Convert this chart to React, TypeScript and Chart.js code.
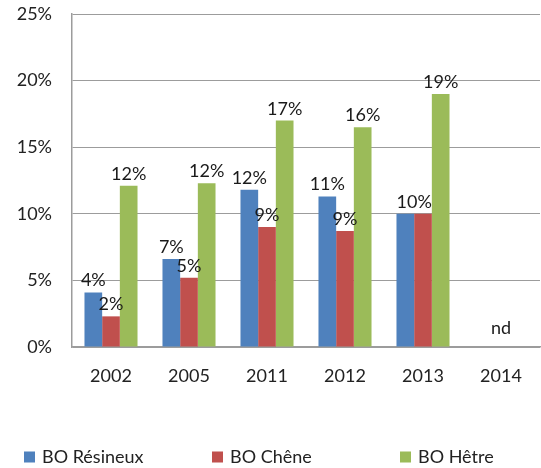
import React, { useEffect, useRef } from "react";
import { Chart, registerables } from "chart.js";

Chart.register(...registerables);

const categories = ["2002", "2005", "2011", "2012", "2013", "2014"];
const seriesNames = ["BO Résineux", "BO Chêne", "BO Hêtre"];
const resineux = [4.1, 6.6, 11.8, 11.3, 10.0, null];
const chene = [2.3, 5.2, 9.0, 8.7, 10.0, null];
const hetre = [12.1, 12.3, 17.0, 16.5, 19.0, null];
const resineuxLabels = ["4%", "7%", "12%", "11%", "10%", ""];
const cheneLabels = ["2%", "5%", "9%", "9%", "10%", ""];
const hetreLabels = ["12%", "12%", "17%", "16%", "19%", ""];
const missingLabels = ["", "", "", "", "", "nd"];
const colors = ["#4F81BD", "#C0504D", "#9BBB59"];

const FONT = "Lato, 'Open Sans', sans-serif";
const TEXT = "#222222";
const GRID = "#9c9c9c";

const labelPlugin = {
  id: "valueLabels",
  afterDatasetsDraw(chart: any) {
    const ctx = chart.ctx;
    const allLabels = [resineuxLabels, cheneLabels, hetreLabels];
    ctx.save();
    ctx.font = `18px ${FONT}`;
    ctx.fillStyle = "#1a1a1a";
    ctx.textAlign = "center";
    ctx.textBaseline = "alphabetic";
    categories.forEach((_, i) => {
      const items: { x: number; y: number; t: string }[] = [];
      allLabels.forEach((labs, d) => {
        const t = labs[i];
        if (!t) return;
        const el = chart.getDatasetMeta(d).data[i];
        if (!el) return;
        items.push({ x: el.x, y: el.y, t });
      });
      const out: { x: number; y: number; t: string }[] = [];
      items.forEach((it) => {
        const prev = out[out.length - 1];
        if (prev && prev.t === it.t && Math.abs(prev.y - it.y) < 1) {
          prev.x = (prev.x + it.x) / 2;
        } else out.push({ ...it });
      });
      out.forEach((it) => ctx.fillText(it.t, it.x, it.y - 6));
      if (missingLabels[i]) {
        const x = chart.scales.x.getPixelForValue(i);
        const y = chart.scales.y.getPixelForValue(0);
        ctx.fillText(missingLabels[i], x, y - 13);
      }
    });
    ctx.restore();
  },
};

const legendPlugin = {
  id: "customLegend",
  afterDraw(chart: any) {
    const ctx = chart.ctx;
    ctx.save();
    ctx.font = `18px ${FONT}`;
    ctx.textBaseline = "middle";
    ctx.textAlign = "left";
    const yc = 457;
    seriesNames.forEach((name, i) => {
      const x = 24 + i * 188;
      ctx.fillStyle = colors[i];
      ctx.fillRect(x, yc - 5.5, 11, 11);
      ctx.fillStyle = TEXT;
      ctx.fillText(name, x + 18, yc);
    });
    ctx.restore();
  },
};

export default function App() {
  const ref = useRef<HTMLCanvasElement>(null);
  useEffect(() => {
    if (!ref.current) return;
    const chart = new Chart(ref.current, {
      type: "bar",
      data: {
        labels: categories,
        datasets: [resineux, chene, hetre].map((d, i) => ({
          label: seriesNames[i],
          data: d as any,
          backgroundColor: colors[i],
          borderWidth: 0,
          categoryPercentage: 0.68,
          barPercentage: 1,
        })),
      },
      options: {
        responsive: false,
        animation: false,
        layout: { padding: { top: 14, right: 1, bottom: 71, left: 0 } },
        plugins: {
          legend: { display: false },
          tooltip: { enabled: false },
        },
        scales: {
          x: {
            grid: { display: false, drawTicks: false },
            border: { color: GRID, width: 1.5 },
            ticks: { color: TEXT, font: { family: FONT, size: 18 }, padding: 18 },
            afterFit: (s: any) => {
              s.height = 50;
              s.paddingLeft = 0;
              s.paddingRight = 0;
            },
          },
          y: {
            min: 0,
            max: 25,
            ticks: {
              stepSize: 5,
              color: TEXT,
              font: { family: FONT, size: 18 },
              padding: 20,
              callback: (v: any) => v + "%",
            },
            grid: { color: GRID, drawTicks: false, lineWidth: 1 },
            border: { color: GRID, width: 1.5 },
            afterFit: (s: any) => {
              s.width = 72;
              s.paddingTop = 0;
              s.paddingBottom = 0;
            },
          },
        },
      },
      plugins: [labelPlugin, legendPlugin],
    });
    return () => chart.destroy();
  }, []);
  return (
    <div style={{ position: "fixed", left: 0, top: 0, width: 541, height: 468, background: "#fff" }}>
      <canvas ref={ref} width={541} height={468} style={{ display: "block" }} />
    </div>
  );
}
